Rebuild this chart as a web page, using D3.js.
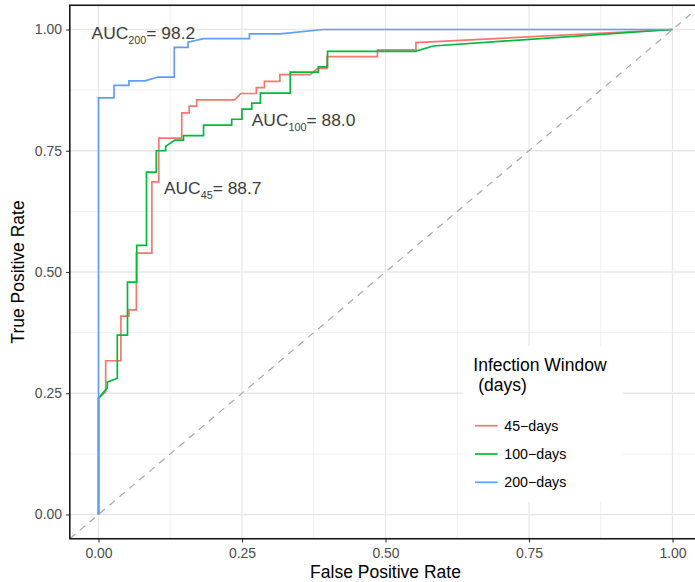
<!DOCTYPE html>
<html>
<head>
<meta charset="utf-8">
<script src="https://d3js.org/d3.v7.min.js"></script>
<style>
  body { margin: 0; background: #fff; }
  text { font-family: "Liberation Sans", Arial, Helvetica, sans-serif; }
</style>
</head>
<body>
<div id="grafico"></div>
<script>
// ROC curves, values
const windows = ["45\u2212days", "100\u2212days", "200\u2212days"];
const colores = ["#F8766D", "#00BA38", "#619CFF"];

const fpr45 = [0, 0, 0.0125, 0.0125, 0.039, 0.039, 0.053, 0.053, 0.066, 0.066, 0.093, 0.093, 0.105, 0.105, 0.145, 0.145, 0.158, 0.158, 0.171, 0.171, 0.237, 0.248, 0.275, 0.275, 0.289, 0.289, 0.316, 0.316, 0.369, 0.382, 0.398, 0.398, 0.486, 0.486, 0.553, 0.553, 1];
const tpr45 = [0, 0.240, 0.253, 0.317, 0.317, 0.409, 0.409, 0.422, 0.422, 0.539, 0.539, 0.686, 0.686, 0.776, 0.776, 0.828, 0.828, 0.842, 0.842, 0.855, 0.855, 0.868, 0.868, 0.880, 0.880, 0.893, 0.893, 0.907, 0.907, 0.920, 0.920, 0.944, 0.944, 0.958, 0.958, 0.973, 1];

const fpr100 = [0, 0, 0.0153, 0.0153, 0.0328, 0.0328, 0.0505, 0.0505, 0.0666, 0.0666, 0.0836, 0.0836, 0.1007, 0.1007, 0.117, 0.117, 0.133, 0.148, 0.148, 0.183, 0.183, 0.232, 0.232, 0.250, 0.250, 0.267, 0.267, 0.282, 0.282, 0.334, 0.334, 0.383, 0.383, 0.399, 0.399, 0.552, 0.583, 1];
const tpr100 = [0, 0.240, 0.261, 0.273, 0.281, 0.370, 0.370, 0.479, 0.479, 0.555, 0.555, 0.706, 0.706, 0.750, 0.750, 0.759, 0.772, 0.772, 0.781, 0.781, 0.803, 0.803, 0.815, 0.815, 0.836, 0.836, 0.848, 0.848, 0.869, 0.869, 0.912, 0.912, 0.923, 0.923, 0.955, 0.955, 0.966, 1];

const fpr200 = [0, 0, 0.027, 0.027, 0.053, 0.053, 0.081, 0.104, 0.132, 0.132, 0.156, 0.156, 0.183, 0.263, 0.263, 0.316, 0.392, 1];
const tpr200 = [0, 0.859, 0.859, 0.885, 0.885, 0.894, 0.894, 0.902, 0.902, 0.963, 0.963, 0.974, 0.981, 0.981, 0.991, 0.991, 1, 1];

const ticks = [0, 0.25, 0.5, 0.75, 1];
const tickLabels = ["0.00", "0.25", "0.50", "0.75", "1.00"];
const minorTicks = [0.125, 0.375, 0.625, 0.875];

// AUC annotations (anchor in data units)
const aucSub = ["45", "100", "200"];
const aucVal = ["88.7", "88.0", "98.2"];
const aucX = [0.114, 0.267, -0.012];
const aucY = [0.660, 0.801, 0.980];

const series = [
  fpr45.map((d, i) => [d, tpr45[i]]),
  fpr100.map((d, i) => [d, tpr100[i]]),
  fpr200.map((d, i) => [d, tpr200[i]])
];

const ancho = 695;
const alto = 582;

const x = d3.scaleLinear().domain([-0.05, 1.05]).range([69.8, 701.2]);
const y = d3.scaleLinear().domain([-0.05, 1.05]).range([538.75, 5.25]);

const svg = d3.select("#grafico")
  .append("svg")
  .attr("width", ancho)
  .attr("height", alto);

svg.append("defs").append("clipPath")
  .attr("id", "panel")
  .append("rect")
  .attr("x", x(-0.05)).attr("y", y(1.05))
  .attr("width", x(1.05) - x(-0.05))
  .attr("height", y(-0.05) - y(1.05));

// grid
const grid = svg.append("g").attr("clip-path", "url(#panel)");
grid.selectAll(".minx").data(minorTicks).join("line")
  .attr("x1", d => x(d)).attr("x2", d => x(d))
  .attr("y1", y(-0.05)).attr("y2", y(1.05))
  .attr("stroke", "#E8E8E8").attr("stroke-width", 0.6);
grid.selectAll(".miny").data(minorTicks).join("line")
  .attr("y1", d => y(d)).attr("y2", d => y(d))
  .attr("x1", x(-0.05)).attr("x2", x(1.05))
  .attr("stroke", "#E8E8E8").attr("stroke-width", 0.6);
grid.selectAll(".majx").data(ticks).join("line")
  .attr("x1", d => x(d)).attr("x2", d => x(d))
  .attr("y1", y(-0.05)).attr("y2", y(1.05))
  .attr("stroke", "#E8E8E8").attr("stroke-width", 1.3);
grid.selectAll(".majy").data(ticks).join("line")
  .attr("y1", d => y(d)).attr("y2", d => y(d))
  .attr("x1", x(-0.05)).attr("x2", x(1.05))
  .attr("stroke", "#E8E8E8").attr("stroke-width", 1.3);

// chance diagonal
grid.append("line")
  .attr("x1", x(-0.05)).attr("y1", y(-0.05))
  .attr("x2", x(1.05)).attr("y2", y(1.05))
  .attr("stroke", "#A8A8A8")
  .attr("stroke-width", 1.2)
  .attr("stroke-dasharray", "7,6");

// curves
const linea = d3.line().x(d => x(d[0])).y(d => y(d[1]));
grid.selectAll(".roc").data(series).join("path")
  .attr("d", linea)
  .attr("fill", "none")
  .attr("stroke", (d, i) => colores[i])
  .attr("stroke-width", 1.7);

// annotations
aucSub.forEach((s, i) => {
  const t = svg.append("text")
    .attr("x", x(aucX[i]))
    .attr("y", y(aucY[i]))
    .attr("fill", "#3d3d3d")
    .style("font-size", "17.4px");
  t.append("tspan").text("AUC");
  t.append("tspan").attr("dy", 5).style("font-size", "10.8px").text(s);
  t.append("tspan").attr("dy", -5).text("= " + aucVal[i]);
});

// legend
const leg = svg.append("g");
leg.append("rect")
  .attr("x", 462.7).attr("y", 346)
  .attr("width", 160).attr("height", 156)
  .attr("fill", "#fff");
leg.append("text").attr("x", 473.3).attr("y", 370.7)
  .style("font-size", "17.5px").attr("fill", "#000")
  .text("Infection Window");
leg.append("text").attr("x", 473.3).attr("y", 390.7)
  .style("font-size", "17.5px").attr("fill", "#000")
  .style("white-space", "pre")
  .text(" (days)");
windows.forEach((w, i) => {
  const ly = 425.7 + i * 28.3;
  leg.append("line")
    .attr("x1", 475).attr("x2", 497.7)
    .attr("y1", ly).attr("y2", ly)
    .attr("stroke", colores[i]).attr("stroke-width", 1.7);
  leg.append("text")
    .attr("x", 504.3).attr("y", ly + 5)
    .style("font-size", "14.2px").attr("fill", "#000")
    .text(w);
});

// axes
const ejeY = svg.append("g")
  .attr("transform", "translate(" + x(-0.05) + ",0)")
  .call(d3.axisLeft(y).tickValues(ticks).tickFormat((d, i) => tickLabels[i]).tickSize(3.7).tickPadding(4));
const ejeX = svg.append("g")
  .attr("transform", "translate(0," + y(-0.05) + ")")
  .call(d3.axisBottom(x).tickValues(ticks).tickFormat((d, i) => tickLabels[i]).tickSize(3.7).tickPadding(5.6));
[ejeX, ejeY].forEach(g => {
  g.select(".domain").remove();
  g.selectAll(".tick line").attr("stroke", "#333").attr("stroke-width", 1.1);
  g.selectAll(".tick text")
    .attr("fill", "#4D4D4D")
    .style("font-size", "14px")
    .style("font-family", "'Liberation Sans', Arial, Helvetica, sans-serif");
});

// panel border
svg.append("rect")
  .attr("x", x(-0.05)).attr("y", y(1.05))
  .attr("width", x(1.05) - x(-0.05))
  .attr("height", y(-0.05) - y(1.05))
  .attr("fill", "none")
  .attr("stroke", "#1a1a1a")
  .attr("stroke-width", 1.6);

// axis titles
svg.append("text")
  .attr("x", (x(-0.05) + x(1.05)) / 2)
  .attr("y", 578)
  .attr("text-anchor", "middle")
  .style("font-size", "17.5px")
  .text("False Positive Rate");
svg.append("text")
  .attr("transform", "translate(24," + (y(-0.05) + y(1.05)) / 2 + ") rotate(-90)")
  .attr("text-anchor", "middle")
  .style("font-size", "17.5px")
  .text("True Positive Rate");
</script>
</body>
</html>
